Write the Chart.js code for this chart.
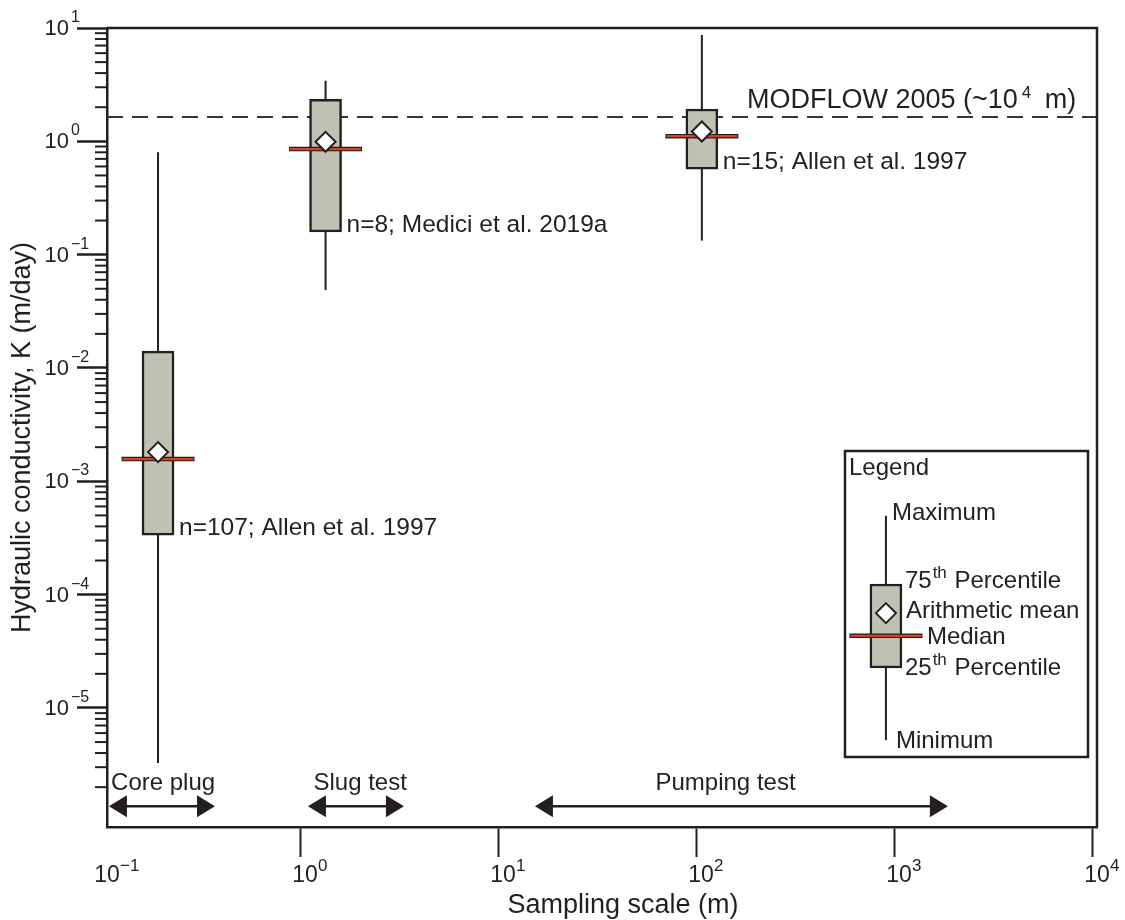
<!DOCTYPE html>
<html>
<head>
<meta charset="utf-8">
<script src="https://cdn.jsdelivr.net/npm/chart.js@4.4.1/dist/chart.umd.min.js"></script>
<style>
  html, body { margin: 0; padding: 0; background: #fff; }
</style>
</head>
<body>
<canvas id="kChart" width="1125" height="920"></canvas>
<script>
// box plot statistics, hydraulic conductivity K (m/day)
const sampleScale = [0.181, 1.27, 101];        // sampling scale (m) of each box
const kMin    = [3.26e-6, 0.0487, 0.133];
const kQ1     = [3.35e-4, 0.159, 0.569];
const kMedian = [1.57e-3, 0.855, 1.11];
const kMean   = [1.81e-3, 0.99, 1.22];
const kQ3     = [0.0141, 2.35, 1.93];
const kMax    = [0.80, 3.43, 8.67];
const sampleNotes = ['n=107; Allen et al. 1997', 'n=8; Medici et al. 2019a', 'n=15; Allen et al. 1997'];

// MODFLOW reference line
const modflowK = 1.64;

// test method ranges (m), drawn as arrows along the bottom
const methodNames = ['Core plug', 'Slug test', 'Pumping test'];
const methodFrom = [0.1023, 1.035, 14.5];
const methodTo = [0.351, 3.16, 1766];
const methodLabelAt = [0.192, 1.90, 133];
const methodK = 1.36e-6;

// legend sample box: min, q1, median, mean, q3, max
const keyScale = 859;
const keyStats = [5.2e-6, 2.25e-5, 4.33e-5, 6.87e-5, 1.24e-4, 4.96e-4];

// tick labels (powers of ten)
const xTickExps = [-1, 0, 1, 2, 3, 4];
const yTickExps = [-5, -4, -3, -2, -1, 0, 1];

const dark = '#231f20';
const boxFill = '#c1c1b3';
const medianRed = '#cf4521';
const fontFamily = '"Liberation Sans", Arial, sans-serif';
const font = px => px + 'px ' + fontFamily;

const isPow10 = v => Math.abs(Math.log10(v) - Math.round(Math.log10(v))) < 1e-6;
const expText = e => (e < 0 ? '\u2212' + (-e) : String(e));

// all boxes including the legend sample
const boxX = sampleScale.concat([keyScale]);
const allMin = kMin.concat([keyStats[0]]);
const allQ1 = kQ1.concat([keyStats[1]]);
const allMedian = kMedian.concat([keyStats[2]]);
const allMean = kMean.concat([keyStats[3]]);
const allQ3 = kQ3.concat([keyStats[4]]);
const allMax = kMax.concat([keyStats[5]]);

const whiskers = boxX.map((x, i) => ({
    type: 'line',
    data: [{x: x, y: allMin[i]}, {x: x, y: allMax[i]}],
    borderColor: dark,
    borderWidth: 2,
    pointRadius: 0,
    order: 6
}));

const datasets = whiskers.concat([
    {
        type: 'line',
        data: [{x: 0.1, y: modflowK}, {x: 1e4, y: modflowK}],
        borderColor: '#333',
        borderWidth: 1.8,
        borderDash: [16, 9],
        pointRadius: 0,
        order: 7
    },
    {
        type: 'bar',
        data: boxX.map((x, i) => ({x: x, y: [allQ1[i], allQ3[i]]})),
        backgroundColor: boxFill,
        borderColor: dark,
        borderWidth: 2.5,
        borderSkipped: false,
        barThickness: 32,
        order: 4
    },
    {
        type: 'scatter',
        data: boxX.map((x, i) => ({x: x, y: allMedian[i]})),
        pointStyle: 'line',
        pointRadius: 36.5,
        pointBorderWidth: 4.5,
        pointBorderColor: dark,
        pointBackgroundColor: 'rgba(0,0,0,0)',
        order: 3
    },
    {
        type: 'scatter',
        data: boxX.map((x, i) => ({x: x, y: allMedian[i]})),
        pointStyle: 'line',
        pointRadius: 35.5,
        pointBorderWidth: 2.2,
        pointBorderColor: medianRed,
        pointBackgroundColor: 'rgba(0,0,0,0)',
        order: 2
    },
    {
        type: 'scatter',
        data: boxX.map((x, i) => ({x: x, y: allMean[i]})),
        pointStyle: 'rectRot',
        pointRadius: 10,
        pointBorderWidth: 2,
        pointBorderColor: dark,
        pointBackgroundColor: '#fff',
        order: 1
    }
]);

// labels, minor ticks, frame, arrows and the legend box
const decorations = {
    id: 'decorations',
    afterDraw(chart) {
        const ctx = chart.ctx;
        const area = chart.chartArea;
        const xs = chart.scales.x;
        const ys = chart.scales.y;
        ctx.save();
        ctx.fillStyle = dark;
        ctx.strokeStyle = dark;

        // top and right sides of the frame
        ctx.lineWidth = 2.5;
        ctx.beginPath();
        ctx.moveTo(area.left, area.top);
        ctx.lineTo(area.right, area.top);
        ctx.lineTo(area.right, area.bottom);
        ctx.stroke();

        // minor y ticks
        ctx.lineWidth = 2;
        for (let e = -6; e < 1; e++) {
            for (let s = 2; s <= 9; s++) {
                const v = s * Math.pow(10, e);
                if (v < ys.min || v > ys.max) continue;
                const py = ys.getPixelForValue(v);
                ctx.beginPath();
                ctx.moveTo(area.left - 12, py);
                ctx.lineTo(area.left, py);
                ctx.stroke();
            }
        }

        // y tick labels
        ctx.textBaseline = 'alphabetic';
        yTickExps.forEach(e => {
            const py = ys.getPixelForValue(Math.pow(10, e));
            ctx.font = font(22);
            ctx.textAlign = 'right';
            ctx.fillText('10', area.left - 38, py + 7);
            ctx.font = font(16);
            ctx.textAlign = 'left';
            ctx.fillText(expText(e), area.left - 36, py - 6);
        });

        // x tick labels
        xTickExps.forEach(e => {
            const px = xs.getPixelForValue(Math.pow(10, e));
            ctx.font = font(23);
            ctx.textAlign = 'center';
            ctx.fillText('10', px, area.bottom + 55);
            ctx.font = font(17);
            ctx.textAlign = 'left';
            ctx.fillText(expText(e), px + 13, area.bottom + 44);
        });

        // axis titles
        ctx.font = font(27);
        ctx.textAlign = 'center';
        ctx.fillText('Sampling scale (m)', (area.left + area.right) / 2 + 21, area.bottom + 86);
        ctx.save();
        ctx.translate(30, (area.top + area.bottom) / 2 + 10);
        ctx.rotate(-Math.PI / 2);
        ctx.fillText('Hydraulic conductivity, K (m/day)', 0, 0);
        ctx.restore();

        // sample notes next to the boxes
        ctx.font = font(24.5);
        ctx.textAlign = 'left';
        sampleScale.forEach((x, i) => {
            ctx.fillText(sampleNotes[i], xs.getPixelForValue(x) + 21, ys.getPixelForValue(kQ1[i]));
        });

        // MODFLOW label above the dashed line
        const my = ys.getPixelForValue(modflowK) - 9;
        let mx = area.right - 350;
        ctx.font = font(27);
        ctx.fillText('MODFLOW 2005 (~10', mx, my);
        mx += ctx.measureText('MODFLOW 2005 (~10').width + 4;
        ctx.font = font(17);
        ctx.fillText('4', mx, my - 10);
        mx += ctx.measureText('4').width + 6;
        ctx.font = font(27);
        ctx.fillText(' m)', mx, my);

        // method arrows
        const ay = ys.getPixelForValue(methodK);
        methodNames.forEach((name, i) => {
            const x1 = xs.getPixelForValue(methodFrom[i]);
            const x2 = xs.getPixelForValue(methodTo[i]);
            const hl = 18, hw = 11;
            ctx.lineWidth = 2.5;
            ctx.beginPath();
            ctx.moveTo(x1 + hl - 1, ay);
            ctx.lineTo(x2 - hl + 1, ay);
            ctx.stroke();
            ctx.beginPath();
            ctx.moveTo(x1, ay);
            ctx.lineTo(x1 + hl, ay - hw);
            ctx.lineTo(x1 + hl, ay + hw);
            ctx.closePath();
            ctx.fill();
            ctx.beginPath();
            ctx.moveTo(x2, ay);
            ctx.lineTo(x2 - hl, ay - hw);
            ctx.lineTo(x2 - hl, ay + hw);
            ctx.closePath();
            ctx.fill();
            ctx.font = font(24);
            ctx.textAlign = 'center';
            ctx.fillText(name, xs.getPixelForValue(methodLabelAt[i]), ay - 16);
        });

        // legend frame and its texts
        ctx.lineWidth = 2.5;
        ctx.strokeRect(area.right - 252, area.top + 423, 243, area.bottom - 70 - (area.top + 423));
        ctx.font = font(24);
        ctx.textAlign = 'left';
        ctx.fillText('Legend', area.right - 248, area.top + 447);
        const kx = xs.getPixelForValue(keyScale);
        const kp = keyStats.map(v => ys.getPixelForValue(v));
        ctx.fillText('Maximum', kx + 6, kp[5] + 4);
        ctx.fillText('Arithmetic mean', kx + 20, kp[3] + 5);
        ctx.fillText('Median', kx + 41, kp[2] + 8);
        ctx.fillText('Minimum', kx + 10, kp[0] + 8);
        [['75', kp[4] + 4], ['25', kp[1] + 7]].forEach(([num, by]) => {
            let tx = kx + 19;
            ctx.font = font(24);
            ctx.fillText(num, tx, by);
            tx += ctx.measureText(num).width + 1;
            ctx.font = font(17);
            ctx.fillText('th', tx, by - 10);
            tx += ctx.measureText('th').width + 1;
            ctx.font = font(24);
            ctx.fillText(' Percentile', tx, by);
        });

        ctx.restore();
    }
};

const majorTickColor = exps => c =>
    (c.tick && isPow10(c.tick.value) && exps.includes(Math.round(Math.log10(c.tick.value)))) ? dark : 'rgba(0,0,0,0)';

const ctx = document.getElementById('kChart').getContext('2d');
const kChart = new Chart(ctx, {
    type: 'scatter',
    data: { datasets: datasets },
    options: {
        responsive: false,
        animation: false,
        devicePixelRatio: 1,
        layout: { autoPadding: false, padding: { left: 77, right: 28, top: 28, bottom: 63 } },
        plugins: {
            legend: { display: false },
            tooltip: { enabled: false }
        },
        events: [],
        scales: {
            x: {
                type: 'logarithmic',
                position: 'bottom',
                min: 0.1,
                max: 1e4,
                offset: false,
                grid: { drawOnChartArea: false, drawTicks: true, tickLength: 30, tickWidth: 2, tickColor: majorTickColor(xTickExps) },
                border: { display: true, color: dark, width: 2.5 },
                ticks: { display: false }
            },
            y: {
                type: 'logarithmic',
                position: 'left',
                min: 8.9e-7,
                max: 10,
                grid: { drawOnChartArea: false, drawTicks: true, tickLength: 30, tickWidth: 2.5, tickColor: majorTickColor(yTickExps) },
                border: { display: true, color: dark, width: 2.5 },
                ticks: { display: false }
            }
        }
    },
    plugins: [decorations]
});
</script>
</body>
</html>
